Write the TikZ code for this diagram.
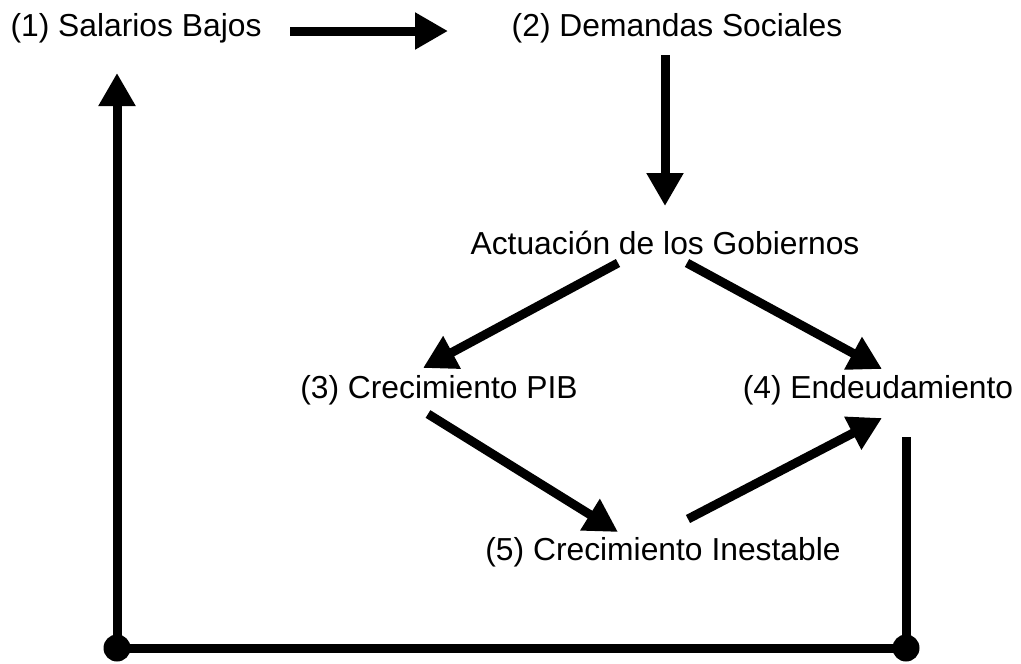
\documentclass[tikz,border=0pt]{standalone}
\usepackage{fontspec}
\setmainfont{Liberation Sans}
\usetikzlibrary{arrows.meta}
\begin{document}
\begin{tikzpicture}[x=1pt,y=-1pt,
  lbl/.style={inner sep=0pt,font=\fontsize{31.8}{36}\selectfont},
  conn/.style={line width=9pt,-{Triangle[length=33pt,width=35pt]}},
  plain/.style={line width=9pt},
  dot/.style={circle,fill=black,inner sep=0pt,minimum size=27pt}]
\useasboundingbox (0,0) rectangle (1021,664);
\node[lbl] (n1) at (136,28) {(1) Salarios Bajos};
\node[lbl] (n2) at (677,28) {(2) Demandas Sociales};
\node[lbl] (ng) at (665,243) {Actuación de los Gobiernos};
\node[lbl] (n3) at (439,390) {(3) Crecimiento PIB};
\node[lbl] (n4) at (878,390) {(4) Endeudamiento};
\node[lbl] (n5) at (663,552) {(5) Crecimiento Inestable};
% anchor coordinates
\coordinate (a1s) at (290,31);
\coordinate (a1e) at (448,31);
\coordinate (a2s) at (665,55);
\coordinate (a2e) at (665,206);
\coordinate (gls) at (618,263);
\coordinate (gle) at (423,368);
\coordinate (grs) at (687,263);
\coordinate (gre) at (882,369);
\coordinate (p3s) at (428,414);
\coordinate (p3e) at (618,532);
\coordinate (p5s) at (688,519);
\coordinate (p5e) at (882,418);
\coordinate (r4s) at (906,437);
\node[dot] (dr) at (906,648) {};
\node[dot] (dl) at (117,648) {};
\coordinate (upe) at (117,73);
\draw[conn] (a1s) -- (a1e);
\draw[conn] (a2s) -- (a2e);
\draw[conn] (gls) -- (gle);
\draw[conn] (grs) -- (gre);
\draw[conn] (p3s) -- (p3e);
\draw[conn] (p5s) -- (p5e);
\draw[plain] (r4s) -- (dr.center);
\draw[plain] (dr.center) -- (dl.center);
\draw[conn] (dl.center) -- (upe);
\end{tikzpicture}
\end{document}
